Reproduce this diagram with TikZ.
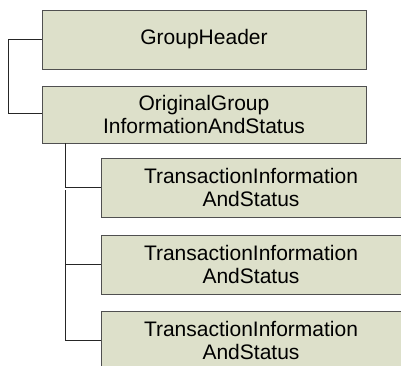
\documentclass[tikz,border=0pt]{standalone}
\usepackage{fontspec}
\setmainfont{Liberation Sans}
\usepackage{xcolor}
\definecolor{boxfill}{HTML}{DDE0CA}
\definecolor{boxline}{HTML}{505050}

\begin{document}
\begin{tikzpicture}[x=1pt,y=1pt,
    elem/.style={draw=boxline,fill=boxfill,line width=0.9pt,inner sep=0pt,align=center,
        font=\fontsize{21}{23.5}\selectfont},
    link/.style={draw=black!85,line width=0.9pt}]
                        \useasboundingbox (0,0) rectangle (401,-365);
                        \node (hdr) at (204,-39.5) [elem,minimum width=324,minimum height=59] {GroupHeader};
                        \node (orig) at (204,-114.5) [elem,minimum width=324,minimum height=57] {OriginalGroup\\InformationAndStatus};
                        \node (tx1) at (251,-187.5) [elem,minimum width=300,minimum height=59] {TransactionInformation\\AndStatus};
                        \node (tx2) at (251,-264.5) [elem,minimum width=300,minimum height=59] {TransactionInformation\\AndStatus};
                        \node (tx3) at (251,-340.5) [elem,minimum width=300,minimum height=59] {TransactionInformation\\AndStatus};
                        \coordinate (top) at (65,-190);

                    \draw[link] (hdr.west) -| (8,-113) -- (8,-113 -| orig.west);
                    \draw[link] (orig.south -| 65,0) |- (tx1.west);
                    \draw[link] (top) |- (tx3.west) (top |- tx2.west) -- (tx2.west);
                \end{tikzpicture}
\end{document}
